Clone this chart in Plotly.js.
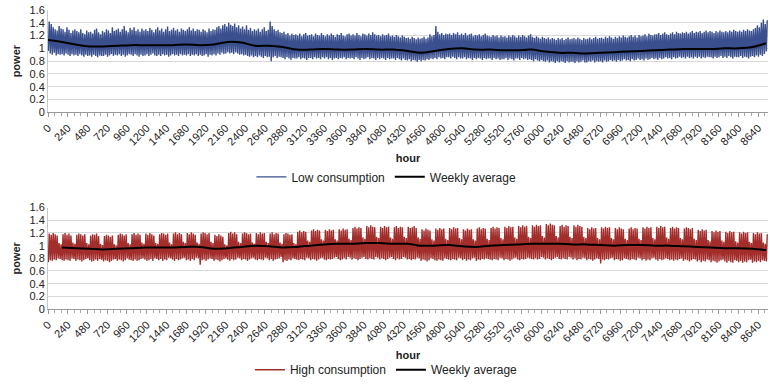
<!DOCTYPE html>
<html>
<head>
<meta charset="utf-8">
<script src="https://cdn.plot.ly/plotly-3.0.1.min.js"></script>
<style>html,body{margin:0;padding:0;background:#fff;}#chart{width:770px;height:386px;}</style>
</head>
<body>
<div id="chart"></div>
<script>
// Daily peak / trough of the hourly "Low consumption" series (365 days)
const lowPeak = [
1.42,1.38,1.33,1.30,1.28,1.35,1.31,
1.30,1.26,1.33,1.29,1.24,1.28,1.30,
1.27,1.25,1.30,1.24,1.22,1.28,1.25,
1.26,1.23,1.29,1.31,1.25,1.22,1.27,
1.25,1.30,1.28,1.24,1.33,1.27,1.29,
1.31,1.26,1.30,1.35,1.28,1.25,1.32,
1.29,1.33,1.27,1.30,1.26,1.31,1.28,
1.30,1.27,1.32,1.29,1.25,1.30,1.33,
1.28,1.31,1.26,1.30,1.34,1.27,1.29,
1.32,1.28,1.30,1.26,1.31,1.29,1.27,
1.30,1.33,1.28,1.31,1.27,1.30,1.29,
1.26,1.30,1.28,1.25,1.31,1.27,1.30,
1.29,1.33,1.35,1.31,1.36,1.38,1.34,
1.40,1.37,1.35,1.39,1.33,1.36,1.31,
1.34,1.30,1.36,1.29,1.32,1.27,1.30,
1.28,1.31,1.26,1.30,1.33,1.27,1.29,
1.42,1.35,1.30,1.27,1.29,1.25,1.24,
1.26,1.22,1.24,1.20,1.23,1.21,1.22,
1.20,1.23,1.19,1.22,1.24,1.20,1.21,
1.22,1.19,1.23,1.21,1.20,1.24,1.21,
1.19,1.22,1.20,1.23,1.21,1.18,1.22,
1.21,1.24,1.20,1.19,1.22,1.23,1.20,
1.22,1.20,1.24,1.21,1.19,1.23,1.22,
1.20,1.23,1.21,1.25,1.22,1.20,1.21,
1.19,1.22,1.20,1.21,1.23,1.19,1.20,
1.18,1.21,1.19,1.17,1.20,1.18,1.16,
1.17,1.15,1.18,1.16,1.14,1.17,1.15,
1.16,1.18,1.15,1.17,1.22,1.19,1.21,
1.35,1.26,1.22,1.24,1.21,1.23,1.22,
1.23,1.21,1.24,1.22,1.25,1.21,1.23,
1.21,1.24,1.20,1.22,1.23,1.19,1.21,
1.20,1.22,1.19,1.21,1.23,1.20,1.19,
1.18,1.21,1.19,1.20,1.17,1.20,1.18,
1.19,1.17,1.20,1.18,1.21,1.19,1.17,
1.20,1.18,1.21,1.19,1.17,1.20,1.22,
1.18,1.16,1.19,1.17,1.15,1.18,1.16,
1.15,1.17,1.14,1.16,1.15,1.13,1.16,
1.14,1.16,1.13,1.15,1.17,1.14,1.15,
1.16,1.14,1.17,1.15,1.13,1.16,1.14,
1.15,1.17,1.14,1.16,1.18,1.15,1.16,
1.17,1.15,1.18,1.16,1.19,1.17,1.15,
1.18,1.16,1.19,1.17,1.20,1.18,1.17,
1.19,1.21,1.18,1.20,1.17,1.21,1.19,
1.20,1.22,1.19,1.23,1.21,1.20,1.22,
1.22,1.24,1.21,1.23,1.25,1.22,1.21,
1.23,1.25,1.22,1.26,1.24,1.23,1.25,
1.24,1.26,1.23,1.25,1.27,1.24,1.26,
1.25,1.27,1.24,1.26,1.28,1.25,1.27,
1.26,1.24,1.27,1.25,1.28,1.26,1.25,
1.27,1.25,1.28,1.26,1.29,1.27,1.26,
1.28,1.26,1.29,1.27,1.30,1.28,1.27,
1.30,1.32,1.36,1.33,1.40,1.45,1.38,
1.44];
const lowTrough = [
0.96,0.92,0.90,0.93,0.89,0.91,0.90,
0.91,0.89,0.92,0.90,0.88,0.91,0.89,
0.90,0.88,0.91,0.89,0.87,0.90,0.88,
0.89,0.87,0.90,0.88,0.86,0.89,0.88,
0.88,0.90,0.87,0.89,0.91,0.88,0.90,
0.89,0.91,0.88,0.90,0.87,0.89,0.91,
0.90,0.88,0.91,0.89,0.87,0.90,0.88,
0.89,0.91,0.88,0.90,0.92,0.89,0.88,
0.90,0.88,0.91,0.89,0.90,0.87,0.89,
0.91,0.89,0.90,0.88,0.91,0.89,0.90,
0.89,0.91,0.88,0.90,0.89,0.91,0.88,
0.90,0.88,0.89,0.91,0.87,0.90,0.89,
0.91,0.89,0.92,0.90,0.93,0.91,0.92,
0.94,0.92,0.93,0.91,0.94,0.92,0.90,
0.91,0.89,0.90,0.88,0.87,0.89,0.86,
0.88,0.86,0.89,0.87,0.85,0.88,0.86,
0.87,0.80,0.86,0.88,0.85,0.87,0.86,
0.85,0.83,0.86,0.84,0.82,0.85,0.84,
0.84,0.86,0.83,0.85,0.84,0.82,0.85,
0.85,0.83,0.86,0.84,0.85,0.83,0.86,
0.84,0.86,0.83,0.85,0.82,0.84,0.85,
0.83,0.85,0.84,0.86,0.83,0.85,0.84,
0.85,0.83,0.86,0.84,0.82,0.85,0.83,
0.84,0.86,0.83,0.85,0.84,0.82,0.85,
0.83,0.85,0.84,0.82,0.85,0.83,0.84,
0.84,0.82,0.85,0.83,0.81,0.84,0.82,
0.81,0.83,0.80,0.82,0.81,0.79,0.82,
0.80,0.82,0.81,0.83,0.82,0.84,0.83,
0.85,0.83,0.86,0.84,0.85,0.83,0.86,
0.86,0.84,0.87,0.85,0.83,0.86,0.84,
0.84,0.86,0.83,0.85,0.84,0.82,0.85,
0.83,0.85,0.84,0.82,0.85,0.83,0.84,
0.84,0.82,0.85,0.83,0.84,0.82,0.83,
0.83,0.85,0.82,0.84,0.83,0.81,0.84,
0.84,0.82,0.85,0.83,0.84,0.82,0.83,
0.82,0.80,0.83,0.81,0.80,0.82,0.80,
0.79,0.81,0.78,0.80,0.79,0.77,0.80,
0.78,0.80,0.79,0.77,0.80,0.78,0.79,
0.79,0.77,0.80,0.78,0.79,0.81,0.78,
0.78,0.80,0.79,0.81,0.78,0.80,0.79,
0.80,0.78,0.81,0.79,0.80,0.82,0.80,
0.81,0.79,0.82,0.80,0.81,0.83,0.81,
0.82,0.80,0.83,0.81,0.82,0.84,0.82,
0.83,0.81,0.84,0.82,0.83,0.85,0.83,
0.84,0.82,0.85,0.83,0.84,0.86,0.84,
0.85,0.83,0.86,0.84,0.85,0.87,0.85,
0.86,0.84,0.87,0.85,0.86,0.84,0.87,
0.85,0.87,0.84,0.86,0.85,0.87,0.86,
0.86,0.84,0.87,0.85,0.86,0.88,0.85,
0.87,0.85,0.88,0.86,0.84,0.87,0.86,
0.86,0.88,0.85,0.87,0.86,0.84,0.87,
0.88,0.86,0.89,0.87,0.90,0.88,0.91,
0.95];
// Weekly average of the Low consumption series, one value every 168 h (0 .. 8736)
const lowWeekly = [1.13,1.10,1.06,1.03,1.03,1.04,1.05,1.05,1.05,1.05,1.06,1.05,1.06,1.10,1.09,1.04,1.04,1.02,0.98,0.98,0.99,0.98,0.98,0.99,0.98,0.98,0.96,0.93,0.96,0.99,1.00,0.98,0.98,0.97,0.97,0.98,0.95,0.93,0.93,0.92,0.93,0.94,0.95,0.96,0.97,0.98,0.99,0.99,0.99,1.00,1.00,1.02,1.08];

// Daily peak / trough of the hourly "High consumption" series (365 days)
const highPeak = [
1.19,1.17,1.20,1.18,1.16,1.04,1.02,
1.18,1.20,1.17,1.19,1.16,1.05,1.03,
1.17,1.19,1.18,1.16,1.18,1.04,1.02,
1.16,1.18,1.17,1.19,1.15,1.03,1.01,
1.15,1.17,1.16,1.14,1.16,1.02,1.00,
1.17,1.19,1.18,1.16,1.18,1.04,1.02,
1.18,1.20,1.17,1.19,1.17,1.05,1.03,
1.19,1.17,1.20,1.18,1.16,1.04,1.03,
1.18,1.20,1.19,1.17,1.19,1.05,1.02,
1.19,1.21,1.18,1.20,1.18,1.06,1.04,
1.20,1.18,1.21,1.19,1.17,1.05,1.03,
1.19,1.21,1.20,1.18,1.20,1.06,1.04,
1.17,1.15,1.18,1.16,1.14,1.02,1.00,
1.20,1.22,1.19,1.21,1.18,1.06,1.04,
1.19,1.21,1.20,1.18,1.19,1.05,1.03,
1.20,1.18,1.21,1.19,1.20,1.06,1.04,
1.19,1.21,1.18,1.20,1.19,1.05,1.03,
1.18,1.20,1.19,1.17,1.18,1.04,1.02,
1.22,1.24,1.21,1.23,1.22,1.08,1.06,
1.24,1.26,1.23,1.25,1.24,1.10,1.08,
1.25,1.23,1.26,1.24,1.25,1.10,1.08,
1.26,1.24,1.27,1.25,1.26,1.11,1.09,
1.28,1.30,1.27,1.29,1.28,1.13,1.11,
1.31,1.29,1.32,1.30,1.29,1.14,1.12,
1.30,1.28,1.31,1.29,1.30,1.13,1.11,
1.29,1.31,1.28,1.30,1.29,1.14,1.12,
1.30,1.28,1.29,1.31,1.28,1.13,1.11,
1.26,1.24,1.27,1.25,1.24,1.10,1.08,
1.27,1.25,1.28,1.26,1.27,1.11,1.09,
1.28,1.26,1.29,1.27,1.28,1.12,1.10,
1.26,1.24,1.27,1.25,1.26,1.10,1.08,
1.27,1.29,1.26,1.28,1.27,1.11,1.09,
1.28,1.30,1.27,1.29,1.28,1.12,1.10,
1.30,1.28,1.31,1.29,1.30,1.13,1.11,
1.31,1.29,1.32,1.30,1.31,1.14,1.12,
1.32,1.30,1.33,1.31,1.32,1.15,1.13,
1.34,1.32,1.35,1.33,1.32,1.15,1.13,
1.31,1.33,1.30,1.32,1.31,1.14,1.12,
1.32,1.30,1.33,1.31,1.30,1.14,1.12,
1.28,1.26,1.29,1.27,1.28,1.12,1.10,
1.29,1.27,1.30,1.28,1.29,1.12,1.10,
1.28,1.26,1.29,1.27,1.26,1.11,1.09,
1.27,1.29,1.26,1.28,1.27,1.11,1.09,
1.29,1.27,1.30,1.28,1.29,1.12,1.10,
1.30,1.28,1.31,1.29,1.30,1.13,1.11,
1.28,1.30,1.27,1.29,1.28,1.12,1.10,
1.27,1.29,1.28,1.26,1.28,1.11,1.09,
1.25,1.23,1.26,1.24,1.25,1.09,1.07,
1.23,1.21,1.24,1.22,1.23,1.08,1.06,
1.22,1.20,1.23,1.21,1.22,1.07,1.05,
1.21,1.19,1.22,1.20,1.21,1.06,1.04,
1.20,1.18,1.21,1.19,1.20,1.05,1.03,
1.18];
const highTrough = [
0.74,0.77,0.76,0.78,0.77,0.80,0.79,
0.77,0.76,0.78,0.77,0.76,0.80,0.79,
0.76,0.78,0.77,0.75,0.77,0.79,0.80,
0.77,0.75,0.76,0.78,0.76,0.79,0.78,
0.75,0.77,0.76,0.74,0.76,0.78,0.79,
0.76,0.78,0.77,0.75,0.77,0.80,0.78,
0.77,0.76,0.78,0.76,0.77,0.79,0.80,
0.78,0.76,0.77,0.79,0.76,0.80,0.79,
0.77,0.79,0.76,0.78,0.77,0.81,0.80,
0.78,0.76,0.79,0.77,0.78,0.80,0.81,
0.77,0.78,0.76,0.79,0.77,0.81,0.80,
0.70,0.77,0.78,0.76,0.78,0.80,0.79,
0.76,0.78,0.77,0.75,0.77,0.79,0.80,
0.78,0.76,0.79,0.77,0.78,0.81,0.80,
0.77,0.79,0.78,0.76,0.78,0.80,0.81,
0.78,0.77,0.79,0.78,0.77,0.81,0.80,
0.77,0.79,0.76,0.78,0.79,0.80,0.82,
0.74,0.77,0.76,0.78,0.77,0.80,0.79,
0.78,0.77,0.79,0.78,0.77,0.81,0.80,
0.77,0.79,0.78,0.76,0.78,0.80,0.81,
0.78,0.77,0.79,0.78,0.79,0.81,0.82,
0.79,0.77,0.78,0.80,0.78,0.82,0.81,
0.78,0.80,0.79,0.77,0.79,0.81,0.82,
0.79,0.78,0.80,0.79,0.78,0.82,0.81,
0.78,0.80,0.79,0.77,0.79,0.81,0.82,
0.79,0.77,0.80,0.78,0.79,0.82,0.81,
0.78,0.79,0.77,0.79,0.78,0.81,0.80,
0.76,0.78,0.77,0.75,0.77,0.80,0.79,
0.77,0.76,0.78,0.77,0.76,0.80,0.79,
0.78,0.77,0.79,0.78,0.77,0.81,0.80,
0.77,0.79,0.76,0.78,0.77,0.80,0.81,
0.76,0.78,0.77,0.79,0.78,0.80,0.79,
0.78,0.77,0.79,0.78,0.77,0.81,0.80,
0.77,0.79,0.78,0.76,0.78,0.80,0.81,
0.78,0.77,0.79,0.78,0.79,0.81,0.80,
0.79,0.78,0.80,0.78,0.79,0.82,0.81,
0.78,0.80,0.79,0.77,0.79,0.81,0.82,
0.79,0.78,0.80,0.79,0.78,0.82,0.81,
0.78,0.80,0.77,0.79,0.78,0.81,0.80,
0.77,0.79,0.78,0.76,0.78,0.80,0.79,
0.72,0.78,0.77,0.79,0.78,0.80,0.81,
0.77,0.79,0.78,0.76,0.77,0.80,0.79,
0.78,0.77,0.79,0.78,0.77,0.81,0.80,
0.77,0.79,0.76,0.78,0.77,0.80,0.81,
0.78,0.76,0.79,0.77,0.78,0.80,0.79,
0.77,0.78,0.76,0.78,0.77,0.79,0.80,
0.76,0.78,0.77,0.75,0.77,0.79,0.78,
0.75,0.77,0.74,0.76,0.75,0.78,0.77,
0.74,0.76,0.75,0.73,0.75,0.77,0.78,
0.75,0.73,0.76,0.74,0.73,0.77,0.76,
0.74,0.76,0.73,0.75,0.74,0.77,0.78,
0.73,0.75,0.74,0.76,0.74,0.77,0.76,
0.75];
// Weekly average of the High consumption series, one value every 168 h (0 .. 8736)
const highWeekly = [null,0.97,0.96,0.95,0.94,0.95,0.96,0.97,0.97,0.97,0.98,0.98,0.95,0.96,0.98,1.00,0.99,0.97,0.98,1.00,1.02,1.03,1.03,1.04,1.04,1.03,1.03,1.00,1.00,1.01,0.99,0.98,1.00,1.01,1.02,1.03,1.03,1.03,1.02,1.02,1.01,1.00,1.01,1.01,1.00,1.00,0.99,0.98,0.97,0.96,0.96,0.95,0.93];

// X axis tick labels (hours)
const tickHours = [0,240,480,720,960,1200,1440,1680,1920,2160,2400,2640,2880,3120,3360,3600,3840,4080,4320,4560,4800,5040,5280,5520,5760,6000,6240,6480,6720,6960,7200,7440,7680,7920,8160,8400,8640];
const seriesNames = ['Low consumption','High consumption','Weekly average'];

function hourly(trough, peak) {
  const x = [], y = [];
  for (let d = 0; d < peak.length; d++) {
    x.push(d * 24 + 4, d * 24 + 15);
    y.push(trough[d], peak[d]);
  }
  return {x, y};
}
const weekHours = lowWeekly.map((_, i) => i * 168);
const lowH = hourly(lowTrough, lowPeak);
const highH = hourly(highTrough, highPeak);

const FONT = 'Liberation Sans, Arial, sans-serif';
const traces = [
  {x: lowH.x, y: lowH.y, type: 'scatter', mode: 'lines', name: seriesNames[0],
   line: {color: '#3a4f8e', width: 1.4}, xaxis: 'x', yaxis: 'y', legend: 'legend'},
  {x: weekHours, y: lowWeekly, type: 'scatter', mode: 'lines', name: seriesNames[2],
   line: {color: '#000000', width: 2, shape: 'spline'}, xaxis: 'x', yaxis: 'y', legend: 'legend'},
  {x: highH.x, y: highH.y, type: 'scatter', mode: 'lines', name: seriesNames[1],
   line: {color: '#a32d2b', width: 1.4}, xaxis: 'x2', yaxis: 'y2', legend: 'legend2'},
  {x: weekHours, y: highWeekly, type: 'scatter', mode: 'lines', name: seriesNames[2],
   line: {color: '#000000', width: 2, shape: 'spline'}, xaxis: 'x2', yaxis: 'y2', legend: 'legend2'}
];

function xAxis(anchor) {
  return {
    anchor: anchor, domain: [0, 1], range: [0, 8760],
    tickmode: 'array', tickvals: tickHours, ticktext: tickHours.map(String),
    tickangle: -45, ticks: 'outside', ticklen: 4, tickcolor: '#999',
    tickfont: {family: FONT, size: 11, color: '#222'},
    showline: true, linecolor: '#999', linewidth: 1, showgrid: false, zeroline: false,
    minor: {tick0: 0, dtick: 80, ticks: 'outside', ticklen: 3, tickcolor: '#aaa', showgrid: false},
    title: {text: '<b>hour</b>', font: {family: FONT, size: 11, color: '#222'}, standoff: 7}
  };
}
function yAxis(anchor, domain) {
  return {
    anchor: anchor, domain: domain, range: [0, 1.6], dtick: 0.2, tick0: 0,
    tickfont: {family: FONT, size: 11, color: '#222'},
    showgrid: true, gridcolor: '#d9d9d9', gridwidth: 1, zeroline: false,
    showline: true, linecolor: '#c8c8c8', ticks: '',
    title: {text: '<b>power</b>', font: {family: FONT, size: 11, color: '#222'}, standoff: 6}
  };
}

const layout = {
  width: 770, height: 386,
  margin: {l: 48, r: 2, t: 10, b: 75},
  paper_bgcolor: '#ffffff', plot_bgcolor: '#ffffff',
  font: {family: FONT, size: 11, color: '#222'},
  xaxis: xAxis('y'),
  yaxis: yAxis('x', [0.658, 1]),
  xaxis2: xAxis('y2'),
  yaxis2: yAxis('x2', [0, 0.339]),
  legend: {orientation: 'h', x: 0.47, xanchor: 'center', y: 0.442, yanchor: 'middle',
           font: {family: FONT, size: 12, color: '#222'}, bgcolor: 'rgba(0,0,0,0)', itemwidth: 30},
  legend2: {orientation: 'h', x: 0.47, xanchor: 'center', y: -0.203, yanchor: 'middle',
           font: {family: FONT, size: 12, color: '#222'}, bgcolor: 'rgba(0,0,0,0)', itemwidth: 30},
  showlegend: true
};

Plotly.newPlot('chart', traces, layout, {displayModeBar: false, staticPlot: true});
</script>
</body>
</html>
